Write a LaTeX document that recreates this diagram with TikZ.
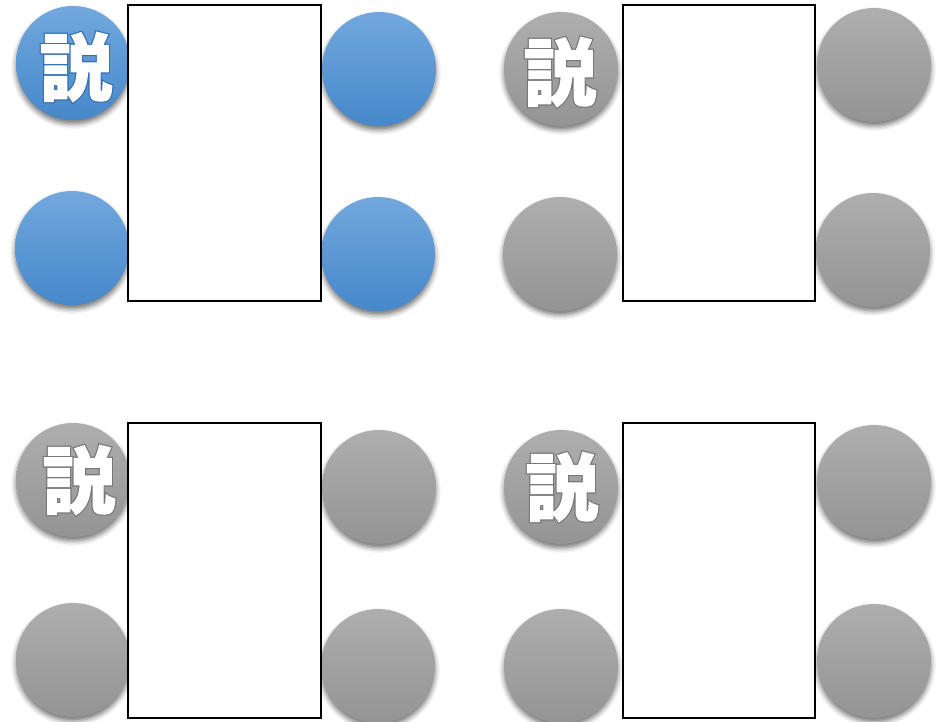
\documentclass[tikz,border=0pt]{standalone}
\usepackage{fontspec}
\usetikzlibrary{shadows.blur}
\newfontfamily\cjk{Noto Sans CJK JP}
\definecolor{bluetop}{RGB}{114,168,222}
\definecolor{bluemid}{RGB}{88,155,219}
\definecolor{bluebot}{RGB}{70,136,202}
\definecolor{graytop}{RGB}{174,174,174}
\definecolor{graymid}{RGB}{164,164,164}
\definecolor{graybot}{RGB}{148,148,148}
% white glyph, slightly thickened, with a coloured rim
\newcommand\rimtext[2]{\rlap{\special{pdf:code 2 Tr 3.4 w 0 j #1 RG #1 rg}#2\special{pdf:code 0 Tr}}%
  \textcolor{white}{\special{pdf:code 2 Tr 1.0 w 0 j 1 1 1 RG}#2\special{pdf:code 0 Tr}}}
\tikzset{
  seat/.style={circle, minimum size=114pt, inner sep=0pt, outer sep=0pt,
    blur shadow={shadow xshift=0pt, shadow yshift=-4pt, shadow blur radius=5pt, shadow opacity=55}},
  seatblue/.style={seat, top color=bluetop, middle color=bluemid, bottom color=bluebot},
  seatgray/.style={seat, top color=graytop, middle color=graymid, bottom color=graybot},
  desk/.style={draw=black, line width=2pt, fill=white, inner sep=0pt},
  glyph/.style={inner sep=0pt, font=\cjk\bfseries\fontsize{73}{73}\selectfont}
}
\begin{document}
\begin{tikzpicture}[x=1pt,y=-1pt]
\useasboundingbox (0,0) rectangle (943,722);
% group 1 (top left, blue)
\node[seatblue] (a1) at (73,63) {};
\node[seatblue] (a2) at (379,69) {};
\node[seatblue] (a3) at (72,248) {};
\node[seatblue] (a4) at (378,254) {};
\node[desk, minimum width=193pt, minimum height=296pt] (da) at (224.5,153) {};
\node[glyph] (ta) at (76,67) {\rimtext{0.20 0.44 0.70}{説}};
% group 2 (top right)
\node[seatgray] (b1) at (561,69) {};
\node[seatgray] (b2) at (874,65) {};
\node[seatgray] (b3) at (560,254) {};
\node[seatgray] (b4) at (873,250) {};
\node[desk, minimum width=192pt, minimum height=296pt] (db) at (719,153) {};
\node[glyph] (tb) at (560,72) {\rimtext{0.47 0.47 0.47}{説}};
% group 3 (bottom left)
\node[seatgray] (c1) at (73,480) {};
\node[seatgray] (c2) at (379,487) {};
\node[seatgray] (c3) at (73,660) {};
\node[seatgray] (c4) at (378,666) {};
\node[desk, minimum width=193pt, minimum height=295pt] (dc) at (224.5,570.5) {};
\node[glyph] (tc) at (79,480) {\rimtext{0.47 0.47 0.47}{説}};
% group 4 (bottom right)
\node[seatgray] (e1) at (561,487) {};
\node[seatgray] (e2) at (874,482) {};
\node[seatgray] (e3) at (561,666) {};
\node[seatgray] (e4) at (874,661) {};
\node[desk, minimum width=192pt, minimum height=295pt] (de) at (719,570.5) {};
\node[glyph] (te) at (562,487) {\rimtext{0.47 0.47 0.47}{説}};
\end{tikzpicture}
\end{document}
